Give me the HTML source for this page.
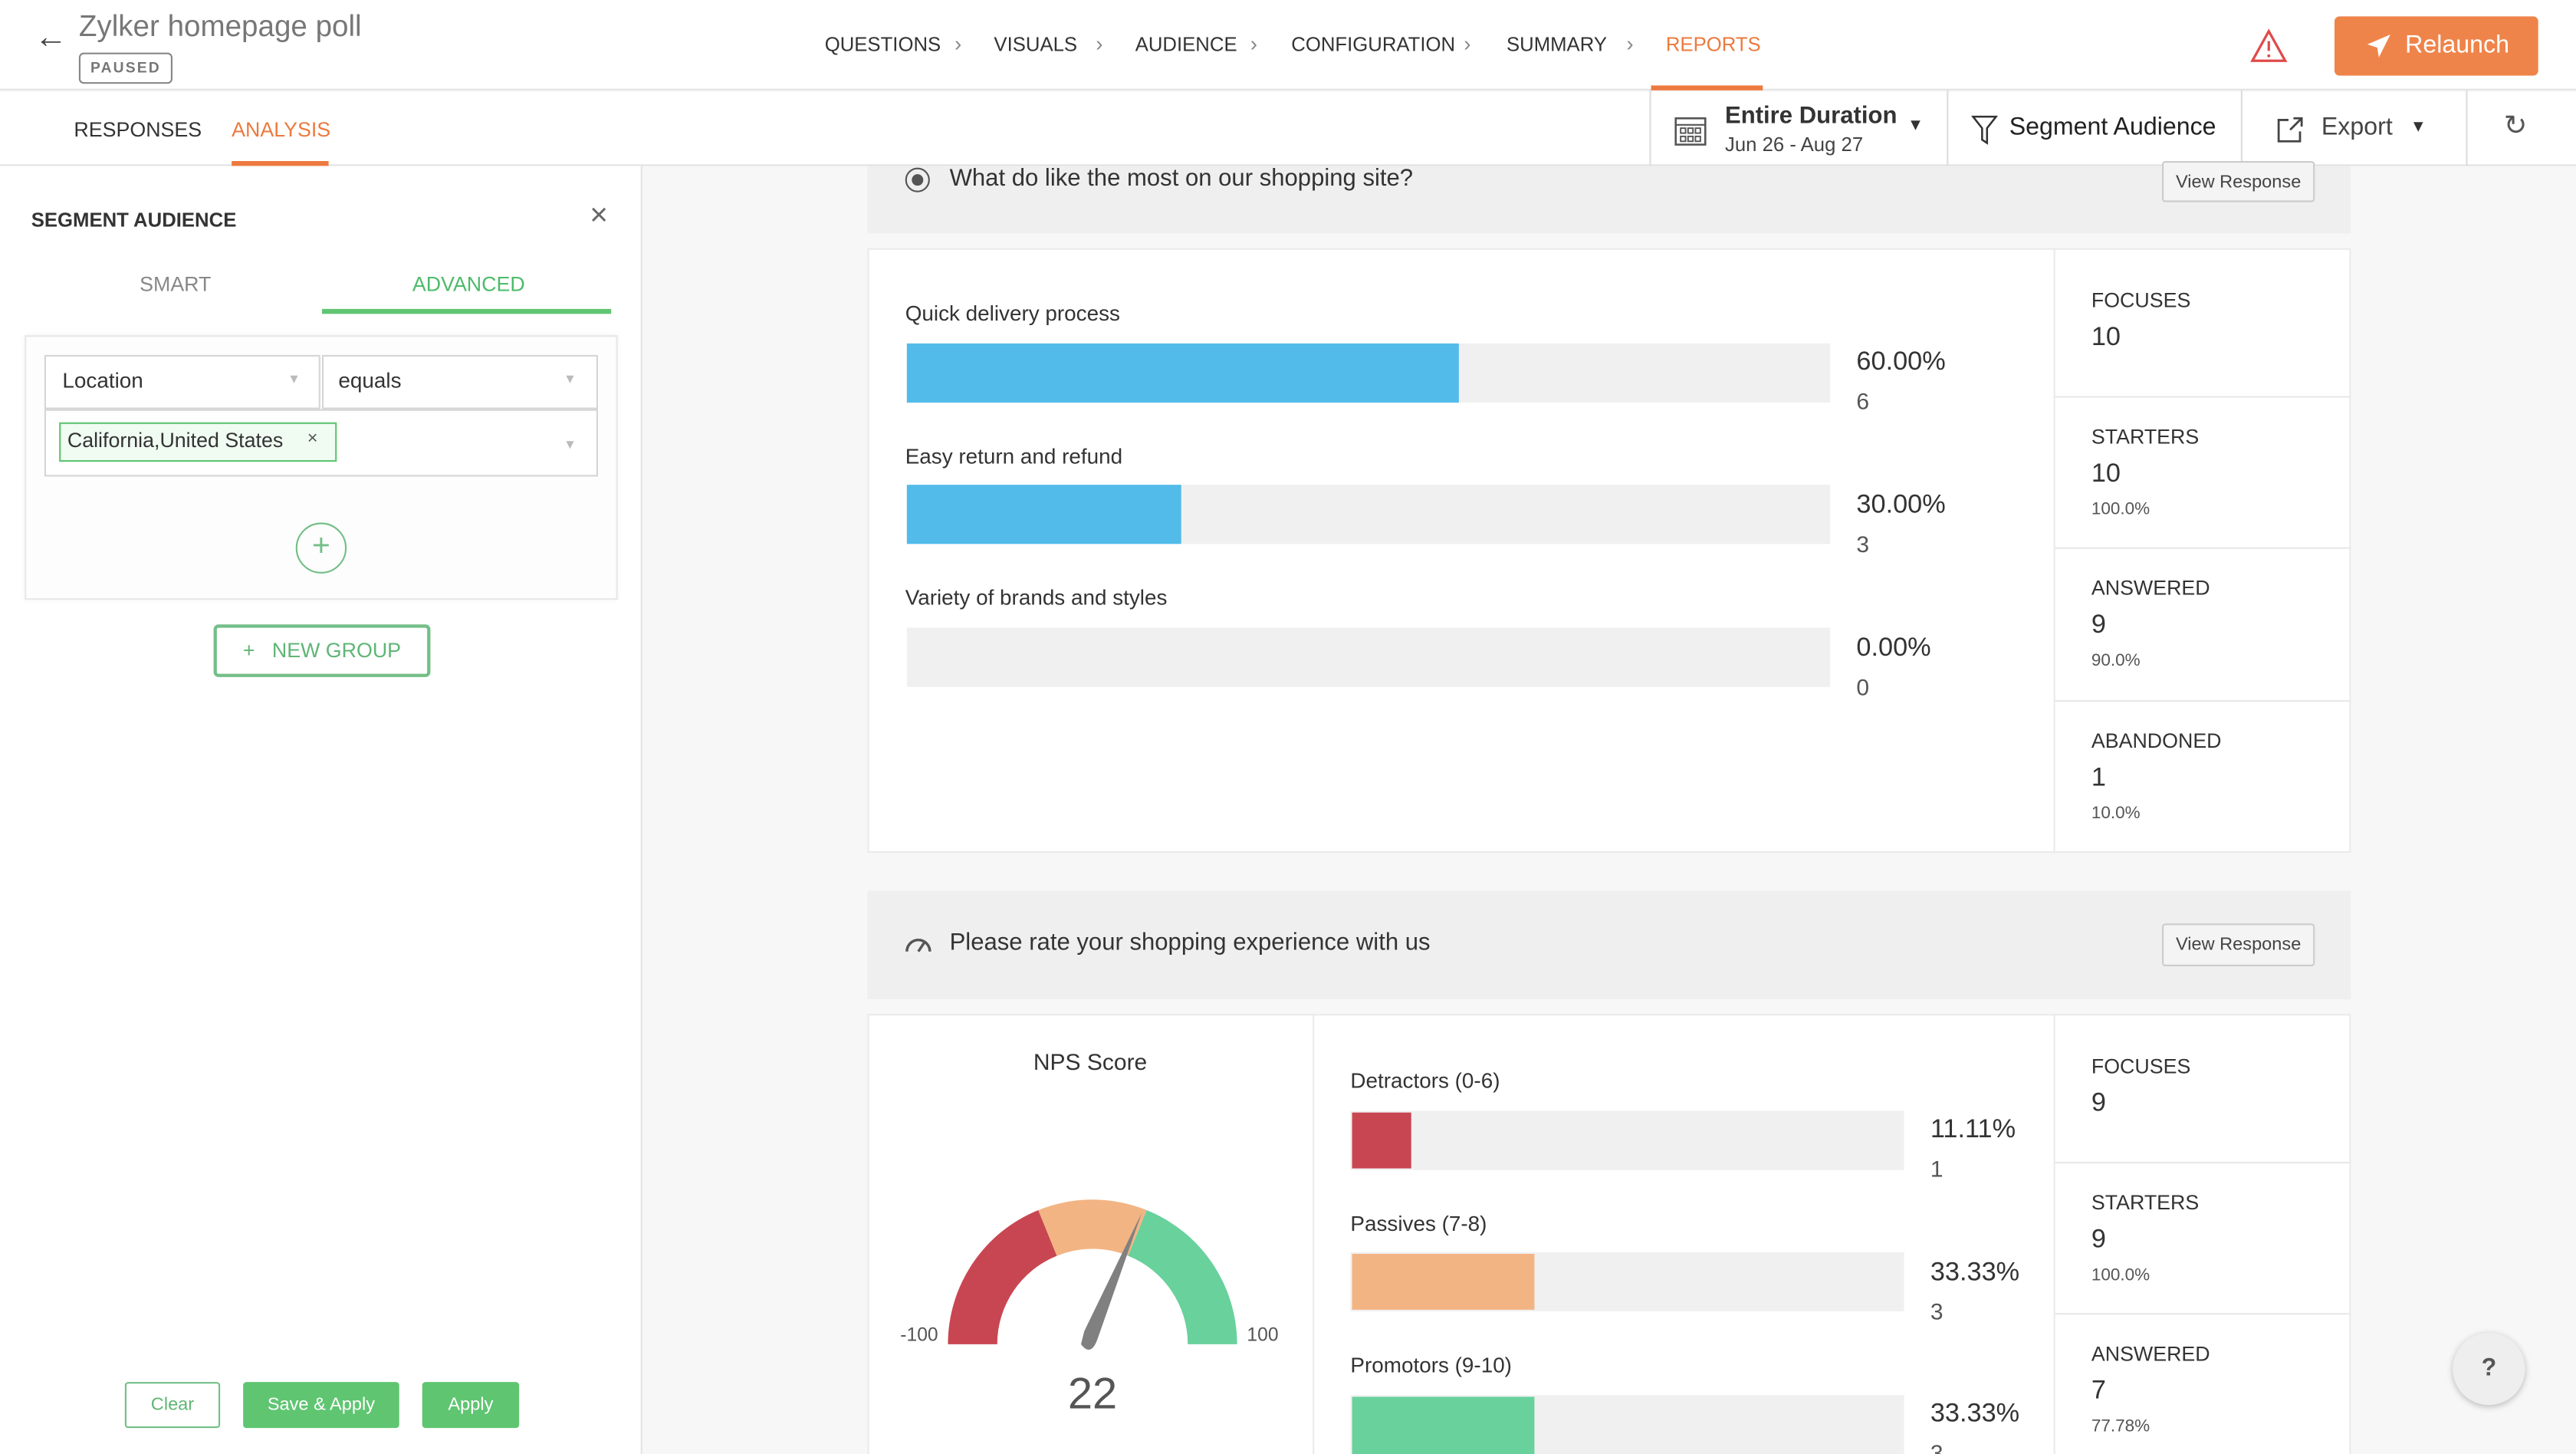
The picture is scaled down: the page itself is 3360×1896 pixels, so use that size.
<!DOCTYPE html>
<html><head><meta charset="utf-8"><style>
*{margin:0;padding:0;box-sizing:border-box}
html,body{width:3360px;height:1896px;overflow:hidden;background:#f7f7f7}
#s{position:absolute;left:0;top:0;width:1568px;height:885px;transform:scale(2.142857);transform-origin:0 0;font-family:"Liberation Sans",sans-serif;color:#333;background:#f7f7f7;overflow:hidden}
.a{position:absolute;white-space:nowrap}
.nav{font-size:12px;color:#333;top:20px}
.chev{font-size:13px;color:#888;top:19px}
.lbl{font-size:13px;color:#333}
.pct{font-size:16px;color:#333}
.cnt{font-size:14px;color:#555}
.st{font-size:12.5px;color:#333}
.sv{font-size:16px;color:#333}
.sp{font-size:10.5px;color:#555}
.track{position:absolute;background:#f0f0f0}
.sep{position:absolute;height:1px;background:#e8e8e8}
</style></head><body><div id="s">
<!-- top bar -->
<div class="a" style="left:0;top:0;width:1568px;height:55px;background:#fff;border-bottom:1px solid #e3e3e3"></div>
<div class="a" style="left:21px;top:12px;font-size:20px;color:#444">←</div>
<div class="a" style="left:48px;top:6px;font-size:18px;color:#777">Zylker homepage poll</div>
<div class="a" style="left:48px;top:32px;width:57px;height:19px;border:1px solid #888;border-radius:3px;font-size:9px;font-weight:bold;letter-spacing:1px;color:#777;text-align:center;line-height:17px">PAUSED</div>
<div class="a nav" style="left:502px">QUESTIONS</div><div class="a chev" style="left:581px">›</div>
<div class="a nav" style="left:605px">VISUALS</div><div class="a chev" style="left:667px">›</div>
<div class="a nav" style="left:691px">AUDIENCE</div><div class="a chev" style="left:761px">›</div>
<div class="a nav" style="left:786px">CONFIGURATION</div><div class="a chev" style="left:891px">›</div>
<div class="a nav" style="left:917px">SUMMARY</div><div class="a chev" style="left:990px">›</div>
<div class="a nav" style="left:1014px;color:#ec7a3f">REPORTS</div>
<div class="a" style="left:1005px;top:52px;width:68px;height:3px;background:#ec7a3f"></div>
<svg class="a" style="left:1369px;top:17px" width="24" height="22"><path d="M12 2 L22 20 L2 20 Z" fill="none" stroke="#e04a4a" stroke-width="1.5"/><line x1="12" y1="8" x2="12" y2="14" stroke="#e04a4a" stroke-width="1.5"/><circle cx="12" cy="17" r="0.9" fill="#e04a4a"/></svg>
<div class="a" style="left:1421px;top:10px;width:124px;height:36px;background:#ef844a;border-radius:3px;color:#fff;font-size:15px;line-height:36px;padding-left:43px">Relaunch</div>
<svg class="a" style="left:1440px;top:20px" width="16" height="16"><path d="M15 1 L1 7 L7 9 L8 15 Z" fill="#fff"/></svg>
<!-- second row -->
<div class="a" style="left:0;top:56px;width:1568px;height:45px;background:#fff;border-bottom:1px solid #e3e3e3"></div>
<div class="a" style="left:45px;top:72px;font-size:12.5px;color:#333">RESPONSES</div>
<div class="a" style="left:141px;top:72px;font-size:12.5px;color:#ec7a3f">ANALYSIS</div>
<div class="a" style="left:141px;top:98px;width:59px;height:3px;background:#ec7a3f"></div>
<div class="a" style="left:1004px;top:55px;width:1px;height:46px;background:#ddd"></div>
<div class="a" style="left:1185px;top:55px;width:1px;height:46px;background:#ddd"></div>
<div class="a" style="left:1364px;top:55px;width:1px;height:46px;background:#ddd"></div>
<div class="a" style="left:1501px;top:55px;width:1px;height:46px;background:#ddd"></div>
<svg class="a" style="left:1019px;top:69px" width="20" height="20"><rect x="1" y="3" width="18" height="16" fill="none" stroke="#555" stroke-width="1.2"/><line x1="1" y1="7" x2="19" y2="7" stroke="#555"/><g fill="none" stroke="#555" stroke-width="0.9"><rect x="4" y="9" width="3" height="3"/><rect x="8.5" y="9" width="3" height="3"/><rect x="13" y="9" width="3" height="3"/><rect x="4" y="14" width="3" height="3"/><rect x="8.5" y="14" width="3" height="3"/><rect x="13" y="14" width="3" height="3"/></g></svg>
<div class="a" style="left:1050px;top:63px;font-size:14.5px;font-weight:bold;color:#333">Entire Duration</div>
<div class="a" style="left:1050px;top:81px;font-size:12px;color:#444">Jun 26 - Aug 27</div>
<div class="a" style="left:1161px;top:71px;font-size:10px;color:#333">▼</div>
<svg class="a" style="left:1200px;top:70px" width="16" height="18"><path d="M1 1 H15 L9.5 8 V17 L6.5 15 V8 Z" fill="none" stroke="#333" stroke-width="1.2"/></svg>
<div class="a" style="left:1223px;top:69px;font-size:15px;color:#222">Segment Audience</div>
<svg class="a" style="left:1385px;top:70px" width="18" height="18"><path d="M8 3 H2 V16 H15 V10" fill="none" stroke="#444" stroke-width="1.3"/><path d="M9 9 L16 2 M11 2 H16 V7" fill="none" stroke="#444" stroke-width="1.3"/></svg>
<div class="a" style="left:1413px;top:69px;font-size:15px;color:#444">Export</div>
<div class="a" style="left:1467px;top:72px;font-size:10px;color:#333">▼</div>
<div class="a" style="left:1524px;top:67px;font-size:17px;color:#555">↻</div>
<!-- left panel -->
<div class="a" style="left:0;top:101px;width:391px;height:784px;background:#fff;border-right:1px solid #e3e3e3"></div>
<div class="a" style="left:19px;top:127px;font-size:12px;font-weight:bold;color:#333">SEGMENT AUDIENCE</div>
<div class="a" style="left:359px;top:121px;font-size:19px;color:#666">×</div>
<div class="a" style="left:85px;top:166px;font-size:12.5px;color:#888">SMART</div>
<div class="a" style="left:251px;top:166px;font-size:12.5px;color:#4dbb6a">ADVANCED</div>
<div class="a" style="left:196px;top:188px;width:176px;height:3px;background:#5fc571"></div>
<div class="a" style="left:15px;top:204px;width:361px;height:161px;border:1px solid #e8e8e8;background:#fdfdfd;box-shadow:0 0 3px rgba(0,0,0,.06)"></div>
<div class="a" style="left:27px;top:216px;width:168px;height:33px;border:1px solid #d6d6d6;background:#fff"></div>
<div class="a" style="left:38px;top:224px;font-size:13px;color:#333">Location</div>
<div class="a" style="left:175px;top:226px;font-size:8px;color:#bbb">▼</div>
<div class="a" style="left:196px;top:216px;width:168px;height:33px;border:1px solid #d6d6d6;background:#fff"></div>
<div class="a" style="left:206px;top:224px;font-size:13px;color:#333">equals</div>
<div class="a" style="left:343px;top:226px;font-size:8px;color:#bbb">▼</div>
<div class="a" style="left:27px;top:249px;width:337px;height:41px;border:1px solid #d6d6d6;background:#fff"></div>
<div class="a" style="left:36px;top:257px;width:169px;height:24px;border:1px solid #5fc571;background:#f0fbf2"></div>
<div class="a" style="left:41px;top:261px;font-size:12.5px;color:#333">California,United States</div>
<div class="a" style="left:187px;top:261px;font-size:11px;color:#555">×</div>
<div class="a" style="left:343px;top:266px;font-size:8px;color:#bbb">▼</div>
<div class="a" style="left:180px;top:318px;width:31px;height:31px;border:1.5px solid #74bf88;border-radius:50%;text-align:center;line-height:28px;font-size:19px;color:#74bf88">+</div>
<div class="a" style="left:130px;top:380px;width:132px;height:32px;border:2px solid #74bf88;border-radius:3px;color:#5fb574;font-size:12.5px;line-height:28px;text-align:center">+&nbsp;&nbsp; NEW GROUP</div>
<div class="a" style="left:76px;top:841px;width:58px;height:28px;border:1.5px solid #74bf88;border-radius:2px;color:#5fb574;font-size:11px;line-height:26px;text-align:center">Clear</div>
<div class="a" style="left:148px;top:841px;width:95px;height:28px;background:#5fc571;border-radius:2px;color:#fff;font-size:11px;line-height:28px;text-align:center">Save &amp; Apply</div>
<div class="a" style="left:257px;top:841px;width:59px;height:28px;background:#5fc571;border-radius:2px;color:#fff;font-size:11px;line-height:28px;text-align:center">Apply</div>
<!-- card 1 -->
<div class="a" style="left:528px;top:101px;width:903px;height:41px;background:#efefef"></div>
<div class="a" style="left:551px;top:102px;width:15px;height:15px;border:1.5px solid #555;border-radius:50%"></div>
<div class="a" style="left:555px;top:106px;width:7px;height:7px;background:#555;border-radius:50%"></div>
<div class="a" style="left:578px;top:101px;font-size:14.5px;color:#333">What do like the most on our shopping site?</div>
<div class="a" style="left:1316px;top:98px;width:93px;height:25px;border:1px solid #ccc;border-radius:2px;background:#f4f4f4;font-size:11px;color:#444;text-align:center;line-height:24px">View Response</div>
<div class="a" style="left:528px;top:151px;width:903px;height:368px;background:#fff;border:1px solid #eaeaea"></div>
<div class="a" style="left:1250px;top:151px;width:1px;height:368px;background:#eaeaea"></div>
<div class="a lbl" style="left:551px;top:183px">Quick delivery process</div>
<div class="track" style="left:552px;top:209px;width:562px;height:36px"></div>
<div class="a" style="left:552px;top:209px;width:336px;height:36px;background:#52bbea"></div>
<div class="a pct" style="left:1130px;top:212px">60.00%</div><div class="a cnt" style="left:1130px;top:236px">6</div>
<div class="a lbl" style="left:551px;top:270px">Easy return and refund</div>
<div class="track" style="left:552px;top:295px;width:562px;height:36px"></div>
<div class="a" style="left:552px;top:295px;width:167px;height:36px;background:#52bbea"></div>
<div class="a pct" style="left:1130px;top:299px">30.00%</div><div class="a cnt" style="left:1130px;top:323px">3</div>
<div class="a lbl" style="left:551px;top:356px">Variety of brands and styles</div>
<div class="track" style="left:552px;top:382px;width:562px;height:36px"></div>
<div class="a pct" style="left:1130px;top:386px">0.00%</div><div class="a cnt" style="left:1130px;top:410px">0</div>
<div class="a st" style="left:1273px;top:176px">FOCUSES</div><div class="a sv" style="left:1273px;top:197px">10</div>
<div class="sep" style="left:1251px;top:241px;width:180px"></div>
<div class="a st" style="left:1273px;top:259px">STARTERS</div><div class="a sv" style="left:1273px;top:280px">10</div><div class="a sp" style="left:1273px;top:304px">100.0%</div>
<div class="sep" style="left:1251px;top:333px;width:180px"></div>
<div class="a st" style="left:1273px;top:351px">ANSWERED</div><div class="a sv" style="left:1273px;top:372px">9</div><div class="a sp" style="left:1273px;top:396px">90.0%</div>
<div class="sep" style="left:1251px;top:426px;width:180px"></div>
<div class="a st" style="left:1273px;top:444px">ABANDONED</div><div class="a sv" style="left:1273px;top:465px">1</div><div class="a sp" style="left:1273px;top:489px">10.0%</div>
<!-- card 2 -->
<div class="a" style="left:528px;top:542px;width:903px;height:66px;background:#efefef"></div>
<svg class="a" style="left:550px;top:567px" width="18" height="14"><path d="M2 12 A7 7 0 0 1 16 12" fill="none" stroke="#555" stroke-width="1.6"/><line x1="9" y1="12" x2="13" y2="6" stroke="#555" stroke-width="1.6"/></svg>
<div class="a" style="left:578px;top:566px;font-size:14.5px;color:#333">Please rate your shopping experience with us</div>
<div class="a" style="left:1316px;top:562px;width:93px;height:26px;border:1px solid #ccc;border-radius:2px;background:#f4f4f4;font-size:11px;color:#444;text-align:center;line-height:25px">View Response</div>
<div class="a" style="left:528px;top:617px;width:903px;height:280px;background:#fff;border:1px solid #eaeaea"></div>
<div class="a" style="left:799px;top:617px;width:1px;height:268px;background:#eaeaea"></div>
<div class="a" style="left:1250px;top:617px;width:1px;height:268px;background:#eaeaea"></div>
<div class="a" style="left:629px;top:638px;font-size:14px;color:#333">NPS Score</div>
<svg class="a" style="left:0;top:0" width="1568" height="885">
<path d="M577 818 A88 88 0 0 1 632 736.4 L643.3 764.2 A58 58 0 0 0 607 818 Z" fill="#c84652"/>
<path d="M632 736.4 A88 88 0 0 1 698 736.4 L686.7 764.2 A58 58 0 0 0 643.3 764.2 Z" fill="#f3b484"/>
<path d="M698 736.4 A88 88 0 0 1 753 818 L723 818 A58 58 0 0 0 686.7 764.2 Z" fill="#68d19c"/>
<path d="M695 738 L668 815 Q664 826 658 818 L660 810 Z" fill="#808080"/>
</svg>
<div class="a" style="left:548px;top:807px;font-size:11.5px;color:#555">-100</div>
<div class="a" style="left:759px;top:807px;font-size:11.5px;color:#555">100</div>
<div class="a" style="left:650px;top:833px;font-size:27px;color:#555">22</div>
<div class="a lbl" style="left:822px;top:650px">Detractors (0-6)</div>
<div class="track" style="left:822px;top:676px;width:337px;height:36px"></div>
<div class="a" style="left:823px;top:677px;width:36px;height:34px;background:#c84652"></div>
<div class="a pct" style="left:1175px;top:679px">11.11%</div><div class="a cnt" style="left:1175px;top:703px">1</div>
<div class="a lbl" style="left:822px;top:737px">Passives (7-8)</div>
<div class="track" style="left:822px;top:762px;width:337px;height:36px"></div>
<div class="a" style="left:823px;top:763px;width:111px;height:34px;background:#f3b484"></div>
<div class="a pct" style="left:1175px;top:766px">33.33%</div><div class="a cnt" style="left:1175px;top:790px">3</div>
<div class="a lbl" style="left:822px;top:823px">Promotors (9-10)</div>
<div class="track" style="left:822px;top:849px;width:337px;height:36px"></div>
<div class="a" style="left:823px;top:850px;width:111px;height:35px;background:#68d19c"></div>
<div class="a pct" style="left:1175px;top:852px">33.33%</div><div class="a cnt" style="left:1175px;top:876px">3</div>
<div class="a st" style="left:1273px;top:642px">FOCUSES</div><div class="a sv" style="left:1273px;top:663px">9</div>
<div class="sep" style="left:1251px;top:707px;width:180px"></div>
<div class="a st" style="left:1273px;top:725px">STARTERS</div><div class="a sv" style="left:1273px;top:746px">9</div><div class="a sp" style="left:1273px;top:770px">100.0%</div>
<div class="sep" style="left:1251px;top:799px;width:180px"></div>
<div class="a st" style="left:1273px;top:817px">ANSWERED</div><div class="a sv" style="left:1273px;top:838px">7</div><div class="a sp" style="left:1273px;top:862px">77.78%</div>
<div class="a" style="left:1493px;top:811px;width:44px;height:44px;border-radius:50%;background:#eee;box-shadow:0 1px 4px rgba(0,0,0,.25);text-align:center;line-height:44px;font-size:15px;font-weight:bold;color:#555">?</div>
</div></body></html>
